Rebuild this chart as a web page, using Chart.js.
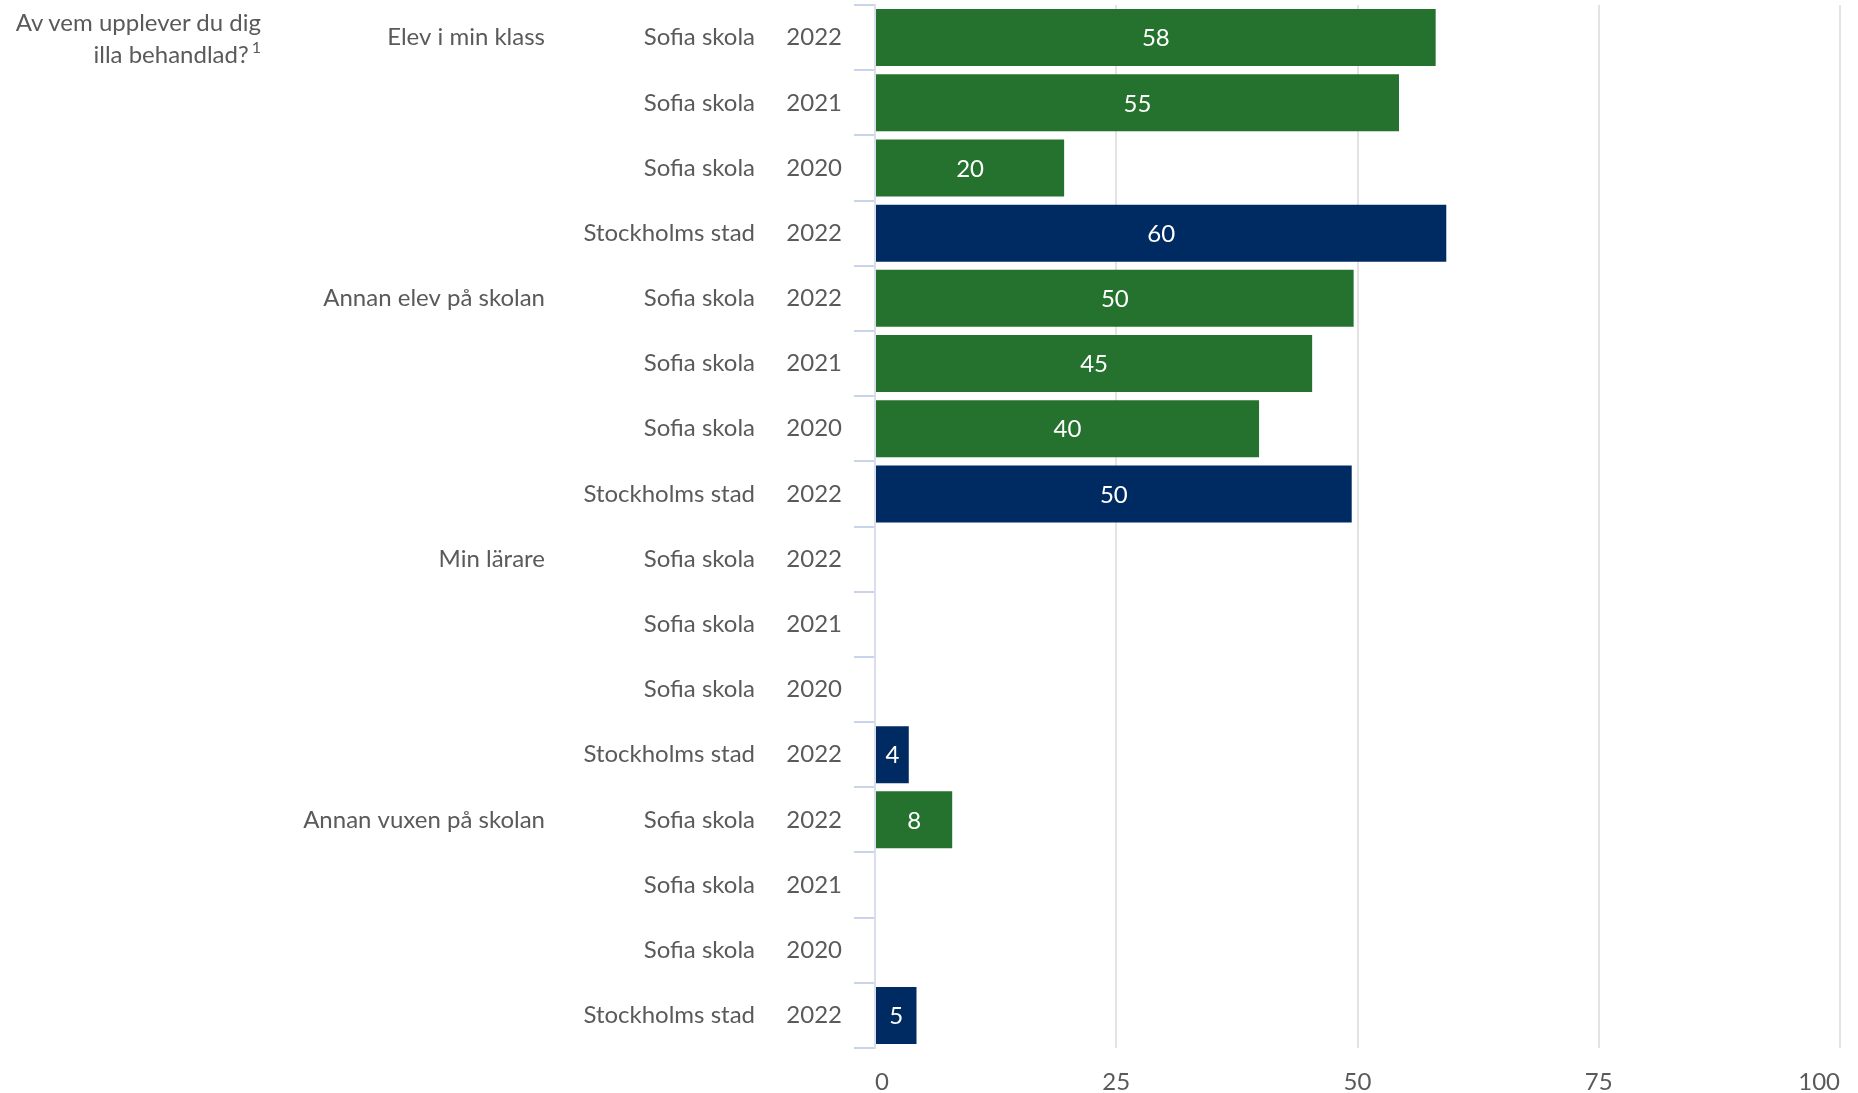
<!DOCTYPE html>
<html>
<head>
<meta charset="utf-8">
<script src="https://cdn.jsdelivr.net/npm/chart.js@4"></script>
<style>
html,body{margin:0;padding:0;background:#fff;}
#wrap{position:relative;width:1858px;height:1093px;}
#title{position:absolute;left:0;top:6px;width:261px;text-align:right;font-family:Lato,sans-serif;font-size:24px;color:#5a5a5a;line-height:32px;}
#title sup{font-size:16px;line-height:0;vertical-align:10px;margin-left:3px;}
</style>
</head>
<body>
<div id="wrap">
<canvas id="c" width="1858" height="1093"></canvas>
<div id="title">Av vem upplever du dig<br>illa behandlad?<sup>1</sup></div>
</div>
<script>
// ---- data ----
const groups = ['Elev i min klass','','','','Annan elev på skolan','','','','Min lärare','','','','Annan vuxen på skolan','','',''];
const schools = ['Sofia skola','Sofia skola','Sofia skola','Stockholms stad',
                 'Sofia skola','Sofia skola','Sofia skola','Stockholms stad',
                 'Sofia skola','Sofia skola','Sofia skola','Stockholms stad',
                 'Sofia skola','Sofia skola','Sofia skola','Stockholms stad'];
const years = ['2022','2021','2020','2022','2022','2021','2020','2022',
               '2022','2021','2020','2022','2022','2021','2020','2022'];
const values = [58.1, 54.3, 19.6, 59.2, 49.6, 45.3, 39.8, 49.4,
                null, null, null, 3.5, 8.0, null, null, 4.3];
const valueLabels = ['58','55','20','60','50','45','40','50','','','','4','8','','','5'];
const xTicks = [0, 25, 50, 75, 100];

const GREEN = '#24722e';
const NAVY = '#002b62';
const TEXT = '#5a5a5a';

const barColors = schools.map(s => s === 'Stockholms stad' ? NAVY : GREEN);

function zeroPad(s) { s.paddingTop = 0; s.paddingBottom = 0; s.paddingLeft = 0; s.paddingRight = 0; }

const barLabels = {
  id: 'barLabels',
  afterDatasetsDraw(chart) {
    const ctx = chart.ctx;
    const meta = chart.getDatasetMeta(0);
    ctx.save();
    ctx.font = '24px Lato';
    ctx.fillStyle = '#ffffff';
    ctx.textAlign = 'center';
    ctx.textBaseline = 'middle';
    meta.data.forEach((el, i) => {
      if (values[i] == null) return;
      const p = el.getProps(['x', 'y', 'base'], true);
      ctx.fillText(valueLabels[i], (p.x + p.base) / 2, p.y + 1);
    });
    ctx.restore();
  }
};

function draw() {
  Chart.defaults.font.family = 'Lato';
  Chart.defaults.font.size = 24;
  Chart.defaults.color = TEXT;
  new Chart(document.getElementById('c'), {
    type: 'bar',
    data: {
      labels: years,
      datasets: [{
        data: values,
        backgroundColor: barColors,
        borderWidth: 0,
        barPercentage: 0.874,
        categoryPercentage: 1.0
      }]
    },
    options: {
      indexAxis: 'y',
      responsive: false,
      animation: false,
      layout: { padding: { top: 5, right: 18, bottom: 0, left: 0 } },
      plugins: { legend: { display: false }, tooltip: { enabled: false }, title: { display: false } },
      scales: {
        x: {
          type: 'linear', position: 'bottom', min: 0, max: 100,
          afterBuildTicks(s) { s.ticks = xTicks.map(v => ({ value: v })); },
          afterFit(s) { zeroPad(s); s.height = 45; },
          ticks: { padding: 20, font: { size: 24 }, color: TEXT, align: 'inner' },
          grid: {
            color: c => (c.tick && c.tick.value === 0) ? 'rgba(0,0,0,0)' : '#e3e3e3',
            lineWidth: 2, drawTicks: false
          },
          border: { display: false }
        },
        y: {
          type: 'category', position: 'left', weight: 0, offset: true,
          ticks: { padding: 12, autoSkip: false, color: TEXT },
          grid: { drawOnChartArea: false, offset: true, tickLength: 21, color: '#c9d3ea', lineWidth: 2 },
          border: { display: true, color: '#d8deeb', width: 2 },
          afterFit(s) { zeroPad(s); s.width = 105; }
        },
        ySchool: {
          type: 'category', position: 'left', weight: 1, offset: true, labels: schools,
          ticks: { padding: 15, autoSkip: false, color: TEXT },
          grid: { display: false, drawTicks: false }, border: { display: false },
          afterFit(s) { zeroPad(s); s.width = 210; }
        },
        yGroup: {
          type: 'category', position: 'left', weight: 2, offset: true, labels: groups,
          ticks: { padding: 15, autoSkip: false, color: TEXT },
          grid: { display: false, drawTicks: false }, border: { display: false },
          afterFit(s) { zeroPad(s); s.width = 560; }
        }
      }
    },
    plugins: [barLabels]
  });
}
if (document.fonts && document.fonts.load) {
  document.fonts.load('24px Lato').then(draw, draw);
} else { draw(); }
</script>
</body>
</html>
